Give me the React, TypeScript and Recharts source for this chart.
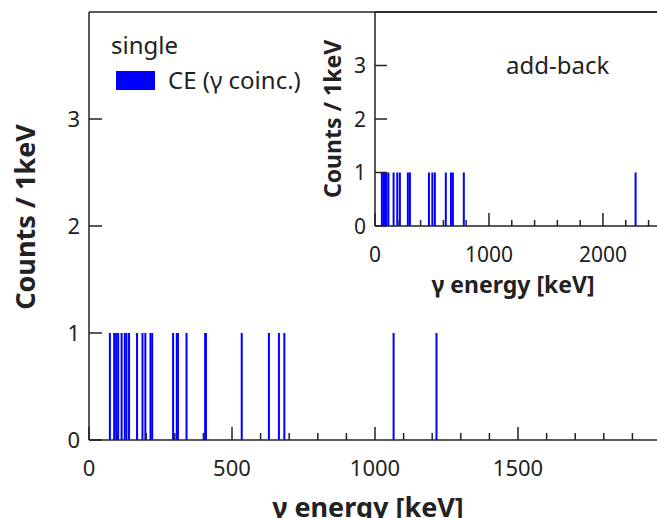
import { BarChart, Bar, XAxis, YAxis, ReferenceLine, Legend, Label } from 'recharts';

const FONT = "'Noto Sans', sans-serif";
const INK = '#222';

// single spectrum: one count per 1 keV bin at these energies
const singleEnergy = [73, 88, 95, 102, 114, 125, 131, 140, 168, 187, 197, 215, 221, 294, 307, 311, 341, 406, 409, 534, 629, 664, 683, 1065, 1215];
const singleCounts = [1, 1, 1, 1, 1, 1, 1, 1, 1, 1, 1, 1, 1, 1, 1, 1, 1, 1, 1, 1, 1, 1, 1, 1, 1];

// add-back spectrum
const addbackEnergy = [61, 75, 88, 101, 118, 164, 196, 219, 289, 307, 474, 504, 526, 622, 667, 684, 780, 2287];
const addbackCounts = [1, 1, 1, 1, 1, 1, 1, 1, 1, 1, 1, 1, 1, 1, 1, 1, 1, 1];

const mainXTicks = [0, 100, 200, 300, 400, 500, 600, 700, 800, 900, 1000, 1100, 1200, 1300, 1400, 1500, 1600, 1700, 1800, 1900];
const mainXLabels = [0, 500, 1000, 1500];
const insetXTicks = [0, 200, 400, 600, 800, 1000, 1200, 1400, 1600, 1800, 2000, 2200, 2400];
const insetXLabels = [0, 1000, 2000];
const yTicks = [0, 1, 2, 3];

const singleData = singleEnergy.map((e, i) => ({ e, c: singleCounts[i] }));
const addbackData = addbackEnergy.map((e, i) => ({ e, c: addbackCounts[i] }));

const axisLine = { stroke: INK, strokeWidth: 1.5 };

// thin 2px line per bin, centred on the bin position given by the axis scale
const lineBar = (p: any) => (
  <rect x={p.x + p.width / 2 - 1} y={p.y} width={2} height={p.height} fill={p.fill} />
);

function bottomTick(labels: number[], fontSize: number, major: number, minor: number, dy: number) {
  return (p: any) => {
    const isMajor = labels.includes(p.payload.value);
    return (
      <g>
        <line x1={p.x} x2={p.x} y1={p.y} y2={p.y - (isMajor ? major : minor)} stroke={INK} strokeWidth={1.5} />
        {isMajor && (
          <text x={p.x} y={p.y + dy} textAnchor="middle" fontSize={fontSize} fontFamily={FONT} fill={INK}>
            {p.payload.value}
          </text>
        )}
      </g>
    );
  };
}

function leftTick(fontSize: number, len: number) {
  return (p: any) => (
    <g>
      <line x1={p.x} x2={p.x + len} y1={p.y} y2={p.y} stroke={INK} strokeWidth={1.5} />
      <text x={p.x - 9} y={p.y} dy="0.36em" textAnchor="end" fontSize={fontSize} fontFamily={FONT} fill={INK}>
        {p.payload.value}
      </text>
    </g>
  );
}

function yTitle(text: string, fontSize: number, dx: number, dyc: number) {
  return (p: any) => {
    const vb = p.viewBox;
    const cx = vb.x + dx;
    const cy = vb.y + vb.height / 2 + dyc;
    return (
      <text transform={`translate(${cx}, ${cy}) rotate(-90)`} textAnchor="middle" dy="0.36em"
        fontSize={fontSize} fontWeight="bold" fontFamily={FONT} fill={INK}>
        {text}
      </text>
    );
  };
}

function xTitle(text: string, fontSize: number, dxc: number, dy: number) {
  return (p: any) => {
    const vb = p.viewBox;
    return (
      <text x={vb.x + vb.width / 2 + dxc} y={vb.y + dy} textAnchor="middle"
        fontSize={fontSize} fontWeight="bold" fontFamily={FONT} fill={INK}>
        {text}
      </text>
    );
  };
}

const mainLegend = (props: any) => (
  <div style={{ fontFamily: FONT, color: INK, fontSize: 24, lineHeight: '28px', whiteSpace: 'nowrap' }}>
    <div>single</div>
    {(props.payload || []).map((item: any) => (
      <div key={item.value} style={{ display: 'flex', alignItems: 'center', marginTop: 7 }}>
        <span style={{ display: 'inline-block', width: 39, height: 19, marginLeft: 5, background: item.color }} />
        <span style={{ marginLeft: 13 }}>{item.value}</span>
      </div>
    ))}
  </div>
);

const insetLegend = () => (
  <div style={{ fontFamily: FONT, color: INK, fontSize: 24, lineHeight: '28px', whiteSpace: 'nowrap' }}>add-back</div>
);

export default function App() {
  return (
    <div style={{ position: 'absolute', left: 0, top: 0, width: 657, height: 518, background: '#fff', overflow: 'hidden' }}>
      <div style={{ position: 'absolute', left: 0, top: 0 }}>
        <BarChart width={657} height={518} data={singleData} margin={{ top: 12, right: 0, bottom: 0, left: 0 }}>
          <XAxis dataKey="e" type="number" domain={[0, 1986]} allowDataOverflow ticks={mainXTicks} interval={0}
            tickSize={0} tickMargin={0} tickLine={false} axisLine={axisLine} height={78}
            tick={bottomTick(mainXLabels, 22, 13, 7, 36)}>
            <Label content={xTitle('γ energy [keV]', 27, -5, 77)} />
          </XAxis>
          <YAxis type="number" domain={[0, 4]} ticks={yTicks} interval={0} width={89}
            tickSize={0} tickMargin={0} tickLine={false} axisLine={axisLine}
            tick={leftTick(22, 13)}>
            <Label content={yTitle('Counts / 1keV', 27, 25, -9)} />
          </YAxis>
          <ReferenceLine y={4} stroke={INK} strokeWidth={1.5} ifOverflow="visible" />
          <Legend layout="horizontal" verticalAlign="middle" align="center" content={mainLegend}
            wrapperStyle={{ left: 111, top: 31, width: 'auto', height: 'auto' }} />
          <Bar dataKey="c" name="CE (γ coinc.)" fill="#0000ff" shape={lineBar} isAnimationActive={false} />
        </BarChart>
      </div>
      <div style={{ position: 'absolute', left: 300, top: 0 }}>
        <BarChart width={357} height={300} data={addbackData} margin={{ top: 12, right: 0, bottom: 0, left: 0 }}>
          <XAxis dataKey="e" type="number" domain={[0, 2474]} allowDataOverflow ticks={insetXTicks} interval={0}
            tickSize={0} tickMargin={0} tickLine={false} axisLine={axisLine} height={74}
            tick={bottomTick(insetXLabels, 21, 13, 6, 36)}>
            <Label content={xTitle('γ energy [keV]', 23, -3, 67)} />
          </XAxis>
          <YAxis type="number" domain={[0, 4]} ticks={yTicks} interval={0} width={75}
            tickSize={0} tickMargin={0} tickLine={false} axisLine={axisLine}
            tick={leftTick(21, 12)}>
            <Label content={yTitle('Counts / 1keV', 23, 33, 0)} />
          </YAxis>
          <ReferenceLine y={4} stroke={INK} strokeWidth={1.5} ifOverflow="visible" />
          <Legend layout="horizontal" verticalAlign="middle" align="center" content={insetLegend}
            wrapperStyle={{ left: 206, top: 51, width: 'auto', height: 'auto' }} />
          <Bar dataKey="c" name="add-back" fill="#0000ff" shape={lineBar} isAnimationActive={false} />
        </BarChart>
      </div>
    </div>
  );
}
